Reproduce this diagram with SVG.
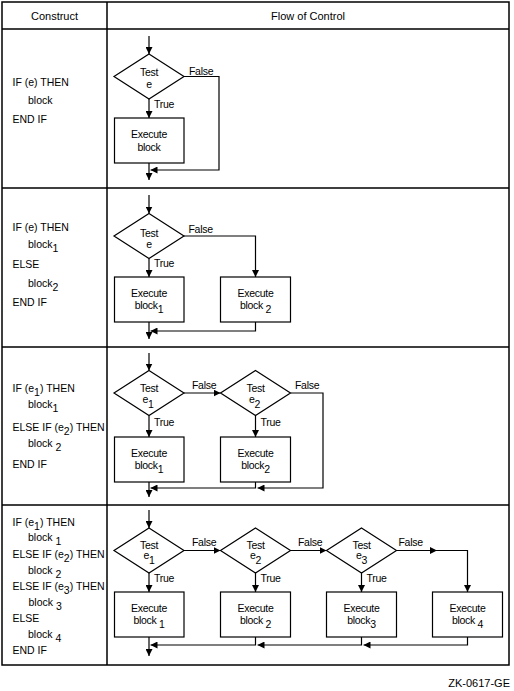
<svg xmlns="http://www.w3.org/2000/svg" width="514" height="691" viewBox="0 0 514 691">
<style>
text{font-family:"Liberation Sans",Arial,sans-serif;fill:#000}
.hd{font-size:11px;text-anchor:middle}
.lc{font-size:10.5px}
.fl{font-size:10.5px;letter-spacing:-0.3px}
.c{text-anchor:middle}
.tbl{fill:none;stroke:#000;stroke-width:1.5}
.shape{fill:#fff;stroke:#000;stroke-width:1.2}
.cn{fill:none;stroke:#000;stroke-width:1.2}
.ar{marker-end:url(#ah)}
</style>
<defs>
<marker id="ah" viewBox="0 0 7 7" refX="7" refY="3.5" markerWidth="7" markerHeight="7" markerUnits="userSpaceOnUse" orient="auto"><path d="M0,0 L7,3.5 L0,7 z" fill="#000"/></marker>
</defs>
<rect width="514" height="691" fill="#fff"/>
<g id="table">
<rect class="tbl" x="2" y="2" width="507" height="663"/>
<path class="tbl" d="M107,2 V665 M2,29 H509 M2,188 H509 M2,347 H509 M2,505 H509"/>
<text class="hd" x="54.5" y="20">Construct</text>
<text class="hd" x="308" y="20">Flow of Control</text>
</g>
<g id="construct1" class="lc">
<text x="12.5" y="86">IF (e) THEN</text>
<text x="28" y="104">block</text>
<text x="12.5" y="123">END IF</text>
</g>
<g id="construct2" class="lc">
<text x="12.5" y="231">IF (e) THEN</text>
<text x="28" y="248">block<tspan dy="4">1</tspan></text>
<text x="12.5" y="267.5">ELSE</text>
<text x="28" y="286.5">block<tspan dy="4">2</tspan></text>
<text x="12.5" y="305.5">END IF</text>
</g>
<g id="construct3" class="lc">
<text x="12.5" y="392">IF (e<tspan dy="4">1</tspan><tspan dy="-4">) THEN</tspan></text>
<text x="28" y="408">block<tspan dy="4">1</tspan></text>
<text x="12.5" y="431">ELSE IF (e<tspan dy="4">2</tspan><tspan dy="-4">) THEN</tspan></text>
<text x="28" y="447">block <tspan dy="4">2</tspan></text>
<text x="12.5" y="468">END IF</text>
</g>
<g id="construct4" class="lc">
<text x="12.5" y="525.5">IF (e<tspan dy="4">1</tspan><tspan dy="-4">) THEN</tspan></text>
<text x="28" y="541">block <tspan dy="4">1</tspan></text>
<text x="12.5" y="557.5">ELSE IF (e<tspan dy="4">2</tspan><tspan dy="-4">) THEN</tspan></text>
<text x="28" y="573.5">block <tspan dy="4">2</tspan></text>
<text x="12.5" y="589.5">ELSE IF (e<tspan dy="4">3</tspan><tspan dy="-4">) THEN</tspan></text>
<text x="28.5" y="605.5">block <tspan dy="4">3</tspan></text>
<text x="12.5" y="621.5">ELSE</text>
<text x="28" y="637.5">block <tspan dy="4">4</tspan></text>
<text x="12.5" y="653.5">END IF</text>
</g>

<g id="connectors">
<path class="cn ar" d="M149,36 V54"/>
<path class="cn ar" d="M149,99 V118"/>
<path class="cn ar" d="M184,76.5 H219 V170 H150.5"/>
<path class="cn ar" d="M149,163 V180"/>
<path class="cn ar" d="M149,195 V213.5"/>
<path class="cn ar" d="M149,258.5 V277"/>
<path class="cn ar" d="M184,236 H255.5 V277"/>
<path class="cn ar" d="M255.5,322 V331 H150.5"/>
<path class="cn ar" d="M149,322 V339"/>
<path class="cn ar" d="M149,353 V370.5"/>
<path class="cn ar" d="M149,415.5 V437"/>
<path class="cn ar" d="M184,393 H220.5"/>
<path class="cn ar" d="M255.5,415.5 V437"/>
<path class="cn ar" d="M290.5,393 H323 V488 H257.5"/>
<path class="cn ar" d="M255.5,482 V488 H150.5"/>
<path class="cn ar" d="M149,482 V497"/>
<path class="cn ar" d="M149,510 V528"/>
<path class="cn ar" d="M149,573 V592"/>
<path class="cn ar" d="M184,550.5 H220.5"/>
<path class="cn ar" d="M255.5,573 V592"/>
<path class="cn ar" d="M290.5,550.5 H326.5"/>
<path class="cn ar" d="M361.5,573 V592"/>
<path class="cn ar" d="M396.5,550.5 H437"/>
<path class="cn ar" d="M437,550.5 H467.5 V592"/>
<path class="cn ar" d="M467.5,637 V645 H363.5"/>
<path class="cn ar" d="M361.5,637 V645 H257.5"/>
<path class="cn ar" d="M255.5,637 V645 H150.5"/>
<path class="cn ar" d="M149,637 V656"/>
<g class="fl">
<text x="189" y="75">False</text>
<text x="154" y="108">True</text>
<text x="188.5" y="233">False</text>
<text x="154" y="267">True</text>
<text x="192" y="388.5">False</text>
<text x="295" y="388.5">False</text>
<text x="154" y="425.5">True</text>
<text x="260.5" y="425.5">True</text>
<text x="192" y="545.5">False</text>
<text x="298" y="545.5">False</text>
<text x="398.5" y="545.5">False</text>
<text x="154" y="582">True</text>
<text x="260.5" y="582">True</text>
<text x="366.5" y="582">True</text>
</g>
</g>

<g id="test1" class="fl">
<polygon class="shape" points="149,54 184,76.5 149,99 114,76.5"/>
<text class="c" x="149" y="76">Test</text>
<text class="c" x="149" y="88">e</text>
</g>
<g id="exec1" class="fl">
<rect class="shape" x="114.5" y="118" width="69.5" height="45"/>
<text class="c" x="149" y="137.5">Execute</text>
<text class="c" x="149" y="150.5">block</text>
</g>

<g id="test2" class="fl">
<polygon class="shape" points="149,213.5 184,236 149,258.5 114,236"/>
<text class="c" x="149" y="236.5">Test</text>
<text class="c" x="149" y="247.5">e</text>
</g>
<g id="exec2a" class="fl">
<rect class="shape" x="114.5" y="277" width="69.5" height="45"/>
<text class="c" x="149" y="296.5">Execute</text>
<text class="c" x="149" y="309">block<tspan dy="4">1</tspan></text>
</g>
<g id="exec2b" class="fl">
<rect class="shape" x="220.5" y="277" width="70" height="45"/>
<text class="c" x="255.5" y="296.5">Execute</text>
<text class="c" x="255.5" y="309">block <tspan dy="4">2</tspan></text>
</g>

<g id="test3a" class="fl">
<polygon class="shape" points="149,370.5 184,393 149,415.5 114,393"/>
<text class="c" x="149" y="392">Test</text>
<text class="c" x="148" y="402.5">e<tspan dy="5">1</tspan></text>
</g>
<g id="test3b" class="fl">
<polygon class="shape" points="255.5,370.5 290.5,393 255.5,415.5 220.5,393"/>
<text class="c" x="255.5" y="392">Test</text>
<text class="c" x="254.5" y="402.5">e<tspan dy="5">2</tspan></text>
</g>
<g id="exec3a" class="fl">
<rect class="shape" x="114.5" y="437" width="69.5" height="45"/>
<text class="c" x="149" y="456.5">Execute</text>
<text class="c" x="149" y="469">block<tspan dy="4">1</tspan></text>
</g>
<g id="exec3b" class="fl">
<rect class="shape" x="220.5" y="437" width="70" height="45"/>
<text class="c" x="255.5" y="456.5">Execute</text>
<text class="c" x="255.5" y="469">block<tspan dy="4">2</tspan></text>
</g>

<g id="test4a" class="fl">
<polygon class="shape" points="149,528 184,550.5 149,573 114,550.5"/>
<text class="c" x="149" y="548.5">Test</text>
<text class="c" x="149" y="559">e<tspan dy="5">1</tspan></text>
</g>
<g id="test4b" class="fl">
<polygon class="shape" points="255.5,528 290.5,550.5 255.5,573 220.5,550.5"/>
<text class="c" x="255.5" y="548.5">Test</text>
<text class="c" x="255.5" y="559">e<tspan dy="5">2</tspan></text>
</g>
<g id="test4c" class="fl">
<polygon class="shape" points="361.5,528 396.5,550.5 361.5,573 326.5,550.5"/>
<text class="c" x="361.5" y="548.5">Test</text>
<text class="c" x="361.5" y="559">e<tspan dy="5">3</tspan></text>
</g>
<g id="exec4a" class="fl">
<rect class="shape" x="114.5" y="592" width="69.5" height="45"/>
<text class="c" x="149" y="611.5">Execute</text>
<text class="c" x="149" y="624">block <tspan dy="4">1</tspan></text>
</g>
<g id="exec4b" class="fl">
<rect class="shape" x="220.5" y="592" width="70" height="45"/>
<text class="c" x="255.5" y="611.5">Execute</text>
<text class="c" x="255.5" y="624">block <tspan dy="4">2</tspan></text>
</g>
<g id="exec4c" class="fl">
<rect class="shape" x="326.5" y="592" width="70" height="45"/>
<text class="c" x="361.5" y="611.5">Execute</text>
<text class="c" x="361.5" y="624">block<tspan dy="4">3</tspan></text>
</g>
<g id="exec4d" class="fl">
<rect class="shape" x="432.5" y="592" width="70" height="45"/>
<text class="c" x="467.5" y="611.5">Execute</text>
<text class="c" x="467.5" y="624">block <tspan dy="4">4</tspan></text>
</g>

<text x="510" y="686.5" style="font-size:11px;text-anchor:end">ZK-0617-GE</text>
</svg>
